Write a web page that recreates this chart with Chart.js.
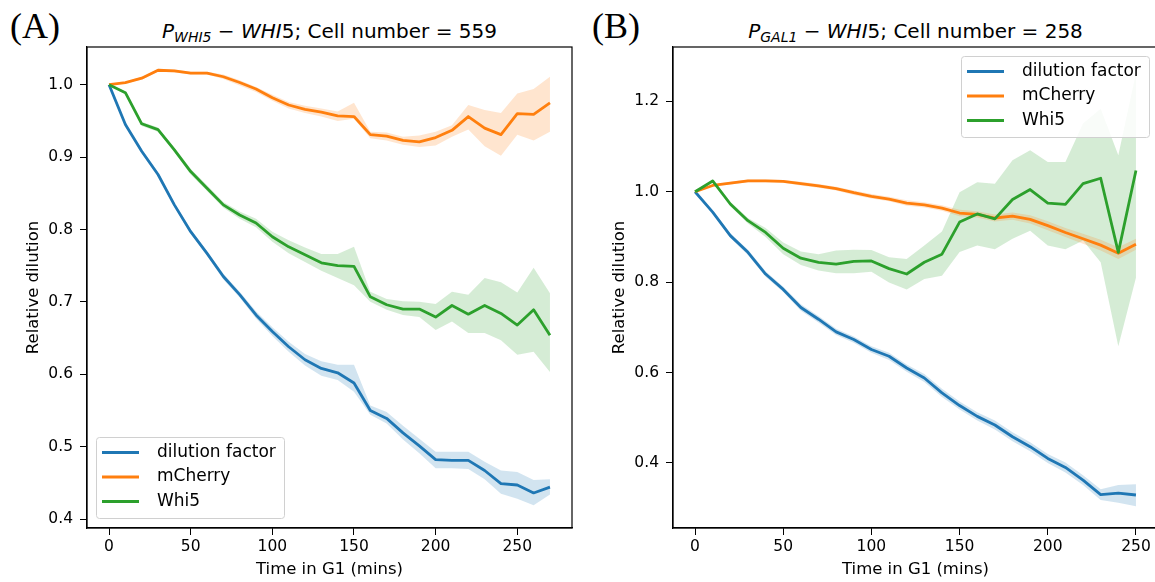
<!DOCTYPE html>
<html>
<head>
<meta charset="utf-8">
<script src="https://cdn.jsdelivr.net/npm/chart.js@4.4.1/dist/chart.umd.min.js"></script>
<style>
  html, body { margin: 0; padding: 0; background: #fff; }
  body { position: relative; width: 1155px; height: 582px; overflow: hidden; font-family: "DejaVu Sans", sans-serif; }
  canvas { position: absolute; top: 0; }
  .panel { position: absolute; top: 8px; font-family: "Liberation Serif", serif; font-size: 36px; line-height: 36px; color: #000; }
  .title { position: absolute; top: 21px; width: 485px; text-align: center; font-size: 20px; line-height: 20px; color: #000; white-space: nowrap; }
  .title sub { font-size: 70%; vertical-align: -0.3em; line-height: 0; }
</style>
</head>
<body>
<div class="panel" style="left:10px">(A)</div>
<div class="panel" style="left:592px">(B)</div>
<div class="title" style="left:87px"><i>P<sub>WHI5</sub></i> − <i>WHI</i>5; Cell number = 559</div>
<div class="title" style="left:673px"><i>P<sub>GAL1</sub></i> − <i>WHI</i>5; Cell number = 258</div>
<canvas id="chartA" width="580" height="582" style="left:0px"></canvas>
<canvas id="chartB" width="580" height="582" style="left:586px"></canvas>
<script>
const seriesNames = ["dilution factor", "mCherry", "Whi5"];
const seriesColors = ["#1f77b4", "#ff7f0e", "#2ca02c"];
const bandColors = ["rgba(31,119,180,0.2)", "rgba(255,127,14,0.2)", "rgba(44,160,44,0.2)"];

// panel A: P_WHI5 - WHI5
const timesA = [0, 10, 20, 30, 40, 50, 60, 70, 80, 90, 100, 110, 120, 130, 140, 150, 160, 170, 180, 190, 200, 210, 220, 230, 240, 250, 260, 270];
const dilutionA = [1.000, 0.945, 0.908, 0.876, 0.834, 0.797, 0.767, 0.735, 0.710, 0.682, 0.659, 0.638, 0.620, 0.608, 0.602, 0.588, 0.550, 0.539, 0.519, 0.501, 0.482, 0.481, 0.481, 0.467, 0.449, 0.447, 0.436, 0.444];
const dilutionA_hi = [1.000, 0.947, 0.911, 0.879, 0.837, 0.800, 0.770, 0.739, 0.714, 0.687, 0.665, 0.645, 0.628, 0.618, 0.613, 0.613, 0.557, 0.548, 0.529, 0.511, 0.493, 0.493, 0.493, 0.479, 0.467, 0.465, 0.454, 0.455];
const dilutionA_lo = [1.000, 0.943, 0.905, 0.873, 0.831, 0.794, 0.764, 0.731, 0.706, 0.677, 0.653, 0.631, 0.612, 0.598, 0.592, 0.576, 0.544, 0.532, 0.510, 0.491, 0.470, 0.470, 0.469, 0.455, 0.435, 0.428, 0.419, 0.434];
const mCherryA = [1.000, 1.003, 1.009, 1.020, 1.019, 1.016, 1.016, 1.011, 1.003, 0.994, 0.982, 0.972, 0.966, 0.962, 0.957, 0.956, 0.931, 0.929, 0.923, 0.921, 0.927, 0.937, 0.956, 0.940, 0.931, 0.960, 0.959, 0.975];
const mCherryA_hi = [1.000, 1.004, 1.011, 1.022, 1.021, 1.018, 1.018, 1.014, 1.006, 0.997, 0.986, 0.976, 0.971, 0.967, 0.963, 0.975, 0.935, 0.934, 0.928, 0.930, 0.935, 0.944, 0.972, 0.965, 0.961, 0.988, 0.994, 1.011];
const mCherryA_lo = [1.000, 1.002, 1.007, 1.018, 1.017, 1.014, 1.014, 1.008, 0.999, 0.990, 0.978, 0.967, 0.961, 0.956, 0.950, 0.953, 0.926, 0.923, 0.917, 0.914, 0.916, 0.928, 0.938, 0.915, 0.902, 0.931, 0.923, 0.935];
const whi5A = [1.000, 0.989, 0.946, 0.938, 0.910, 0.880, 0.857, 0.834, 0.820, 0.809, 0.790, 0.776, 0.765, 0.754, 0.750, 0.749, 0.707, 0.696, 0.690, 0.690, 0.679, 0.695, 0.683, 0.695, 0.684, 0.668, 0.689, 0.654];
const whi5A_hi = [1.000, 0.991, 0.949, 0.941, 0.913, 0.884, 0.861, 0.838, 0.825, 0.815, 0.797, 0.785, 0.775, 0.766, 0.766, 0.776, 0.714, 0.704, 0.701, 0.700, 0.697, 0.714, 0.710, 0.733, 0.727, 0.713, 0.747, 0.712];
const whi5A_lo = [1.000, 0.987, 0.943, 0.935, 0.907, 0.876, 0.853, 0.830, 0.815, 0.803, 0.783, 0.767, 0.755, 0.743, 0.733, 0.723, 0.700, 0.689, 0.682, 0.679, 0.661, 0.673, 0.657, 0.657, 0.647, 0.627, 0.631, 0.603];
const xTicksA = [0, 50, 100, 150, 200, 250];
const yTicksA = [0.4, 0.5, 0.6, 0.7, 0.8, 0.9, 1.0];

// panel B: P_GAL1 - WHI5
const timesB = [0, 10, 20, 30, 40, 50, 60, 70, 80, 90, 100, 110, 120, 130, 140, 150, 160, 170, 180, 190, 200, 210, 220, 230, 240, 250];
const dilutionB = [1.000, 0.955, 0.903, 0.866, 0.818, 0.784, 0.744, 0.718, 0.690, 0.673, 0.651, 0.636, 0.610, 0.588, 0.555, 0.527, 0.503, 0.484, 0.458, 0.436, 0.410, 0.390, 0.362, 0.330, 0.333, 0.329];
const dilutionB_hi = [1.000, 0.958, 0.908, 0.872, 0.824, 0.790, 0.751, 0.725, 0.697, 0.680, 0.658, 0.644, 0.618, 0.597, 0.564, 0.536, 0.512, 0.494, 0.468, 0.446, 0.420, 0.401, 0.373, 0.342, 0.351, 0.353];
const dilutionB_lo = [1.000, 0.952, 0.898, 0.860, 0.812, 0.778, 0.737, 0.711, 0.683, 0.666, 0.644, 0.628, 0.602, 0.579, 0.546, 0.518, 0.494, 0.474, 0.448, 0.426, 0.400, 0.379, 0.351, 0.318, 0.312, 0.304];
const mCherryB = [1.000, 1.014, 1.019, 1.024, 1.024, 1.023, 1.018, 1.013, 1.007, 0.998, 0.990, 0.984, 0.975, 0.971, 0.964, 0.953, 0.950, 0.942, 0.946, 0.939, 0.925, 0.910, 0.896, 0.882, 0.864, 0.884];
const mCherryB_hi = [1.000, 1.016, 1.022, 1.027, 1.027, 1.026, 1.022, 1.017, 1.011, 1.003, 0.995, 0.989, 0.981, 0.977, 0.970, 0.960, 0.957, 0.950, 0.954, 0.948, 0.935, 0.920, 0.907, 0.894, 0.877, 0.896];
const mCherryB_lo = [1.000, 1.012, 1.016, 1.021, 1.021, 1.020, 1.014, 1.009, 1.003, 0.993, 0.985, 0.979, 0.969, 0.965, 0.958, 0.946, 0.943, 0.934, 0.938, 0.930, 0.915, 0.900, 0.885, 0.870, 0.851, 0.872];
const whi5B = [1.000, 1.024, 0.973, 0.936, 0.910, 0.875, 0.853, 0.844, 0.840, 0.846, 0.847, 0.830, 0.818, 0.844, 0.862, 0.933, 0.951, 0.940, 0.983, 1.005, 0.975, 0.972, 1.018, 1.030, 0.866, 1.047];
const whi5B_hi = [1.000, 1.027, 0.978, 0.942, 0.920, 0.888, 0.868, 0.862, 0.870, 0.872, 0.871, 0.855, 0.851, 0.881, 0.912, 0.999, 1.021, 1.018, 1.070, 1.092, 1.066, 1.066, 1.151, 1.184, 1.081, 1.262];
const whi5B_lo = [1.000, 1.021, 0.968, 0.930, 0.900, 0.862, 0.838, 0.826, 0.820, 0.820, 0.823, 0.799, 0.784, 0.807, 0.814, 0.867, 0.881, 0.873, 0.896, 0.914, 0.881, 0.873, 0.892, 0.844, 0.658, 0.810];
const xTicksB = [0, 50, 100, 150, 200, 250];
const yTicksB = [0.4, 0.6, 0.8, 1.0, 1.2];

const points = (times, vals) => times.map((t, i) => ({ x: t, y: vals[i] }));

// closes the frame on top and right like matplotlib spines
const frame = {
	id: "frame",
	afterDraw(chart) {
		const { ctx, chartArea: a } = chart;
		ctx.save();
		ctx.strokeStyle = "#000";
		ctx.lineWidth = 1.2;
		ctx.strokeRect(a.left, a.top, a.right - a.left, a.bottom - a.top);
		ctx.restore();
	},
};

// legend box inside the plot area
const boxLegend = {
	id: "boxLegend",
	afterDatasetsDraw(chart, args, opts) {
		const { ctx, chartArea: a } = chart;
		const items = chart.data.datasets.filter((d) => d.label);
		const w = 188, h = 81;
		const x = opts.corner === "bottomleft" ? a.left + 9 : a.right - 9 - w;
		const y = opts.corner === "bottomleft" ? a.bottom - 10 - h : a.top + 9;
		ctx.save();
		ctx.beginPath();
		ctx.roundRect(x + 0.5, y + 0.5, w, h, 3);
		ctx.fillStyle = "rgba(255,255,255,0.85)";
		ctx.fill();
		ctx.strokeStyle = "#d0d0d0";
		ctx.lineWidth = 1;
		ctx.stroke();
		ctx.font = "17px 'DejaVu Sans'";
		ctx.textBaseline = "middle";
		ctx.fillStyle = "#000";
		items.forEach((d, i) => {
			const cy = y + 15.5 + i * 24.5;
			ctx.beginPath();
			ctx.moveTo(x + 6, cy);
			ctx.lineTo(x + 43, cy);
			ctx.strokeStyle = d.borderColor;
			ctx.lineWidth = 2.8;
			ctx.stroke();
			ctx.fillText(d.label, x + 61, cy);
		});
		ctx.restore();
	},
};

function makeChart(id, times, lines, bands, xRange, yRange, xTicks, yTicks, corner) {
	const datasets = [];
	bands.forEach(([lo, hi], k) => {
		datasets.push({ data: points(times, hi), fill: "+1", backgroundColor: bandColors[k], borderWidth: 0, pointRadius: 0, order: 10 });
		datasets.push({ data: points(times, lo), fill: false, borderWidth: 0, pointRadius: 0, order: 10 });
	});
	lines.forEach((vals, k) => {
		datasets.push({
			label: seriesNames[k],
			data: points(times, vals),
			fill: false,
			borderColor: seriesColors[k],
			borderWidth: 2.8,
			borderJoinStyle: "round",
			pointRadius: 0,
			tension: 0,
			order: 3 - k,
		});
	});

	const tickFont = { family: "DejaVu Sans", size: 15.5 };
	const titleFont = { family: "DejaVu Sans", size: 16.5 };

	return new Chart(document.getElementById(id), {
		type: "line",
		data: { datasets },
		options: {
			responsive: false,
			animation: false,
			layout: { padding: { left: 0, top: 47, right: 8, bottom: 0 } },
			plugins: {
				legend: { display: false },
				tooltip: { enabled: false },
				boxLegend: { corner },
			},
			scales: {
				x: {
					type: "linear",
					min: xRange[0],
					max: xRange[1],
					afterBuildTicks: (axis) => { axis.ticks = xTicks.map((v) => ({ value: v })); },
					afterFit: (axis) => { axis.height = 54; },
					grid: { drawOnChartArea: false, drawTicks: true, tickLength: 7, color: "#000" },
					border: { display: true, color: "#000", width: 1.2 },
					ticks: { color: "#000", font: tickFont, padding: 3, maxRotation: 0 },
					title: { display: true, text: "Time in G1 (mins)", color: "#000", font: titleFont, padding: { top: 0, bottom: 2 } },
				},
				y: {
					min: yRange[0],
					max: yRange[1],
					afterBuildTicks: (axis) => { axis.ticks = yTicks.map((v) => ({ value: v })); },
					afterFit: (axis) => { axis.width = 87; },
					grid: { drawOnChartArea: false, drawTicks: true, tickLength: 7, color: "#000" },
					border: { display: true, color: "#000", width: 1.2 },
					ticks: { color: "#000", font: tickFont, padding: 7, callback: (v) => v.toFixed(1) },
					title: { display: true, text: "Relative dilution", color: "#000", font: titleFont, padding: { top: 24, bottom: 0 } },
				},
			},
		},
		plugins: [boxLegend, frame],
	});
}

makeChart("chartA", timesA,
	[dilutionA, mCherryA, whi5A],
	[[dilutionA_lo, dilutionA_hi], [mCherryA_lo, mCherryA_hi], [whi5A_lo, whi5A_hi]],
	[-13.5, 283.5], [0.3876, 1.0521], xTicksA, yTicksA, "bottomleft");

makeChart("chartB", timesB,
	[dilutionB, mCherryB, whi5B],
	[[dilutionB_lo, dilutionB_hi], [mCherryB_lo, mCherryB_hi], [whi5B_lo, whi5B_hi]],
	[-12.5, 262.5], [0.256, 1.3204], xTicksB, yTicksB, "topright");
</script>
</body>
</html>
